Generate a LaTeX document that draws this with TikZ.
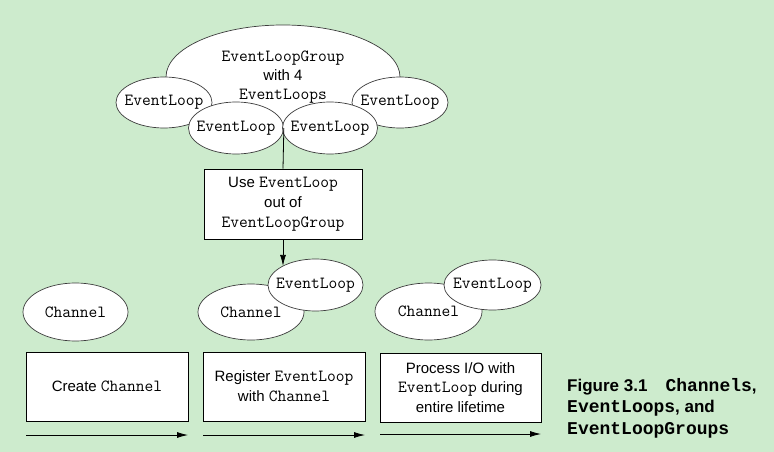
\documentclass[tikz,border=0pt]{standalone}
\usepackage{fontspec}
\setmainfont{Liberation Sans}
\setmonofont{Latin Modern Mono}
\newfontfamily\capmono{Liberation Mono}
\usetikzlibrary{shapes.geometric,arrows.meta}
\definecolor{bg}{RGB}{205,235,205}
\definecolor{edgec}{RGB}{60,60,60}
\begin{document}
\begin{tikzpicture}[x=1pt,y=-1pt,
  ell/.style={ellipse,draw=edgec,line width=0.7pt,fill=white,inner sep=0pt},
  elltxt/.style={inner sep=0pt,align=center,font=\fontsize{17}{19.3}\selectfont\ttfamily},
  stepbox/.style={draw=black,line width=0.8pt,fill=white,inner sep=0pt,align=center,
    font=\fontsize{15}{19.8}\selectfont},
  flow/.style={line width=0.8pt,-{Latex[length=11pt,width=6pt]}}]
\useasboundingbox (0,0) rectangle (774,452);
\fill[bg] (0,0) rectangle (774,452);

% top group
\node[ell,minimum width=234pt,minimum height=104pt] (grp) at (283,77) {};
\node[elltxt] (grpt) at (283,77) {EventLoopGroup\\{\rmfamily\fontsize{15}{19.3}\selectfont with 4}\\EventLoops};
\node[ell,minimum width=96pt,minimum height=51pt] (elL) at (164,102.5) {};
\node[elltxt] (elLt) at (elL) {EventLoop};
\node[ell,minimum width=96pt,minimum height=51pt] (elR) at (400,102.5) {};
\node[elltxt] (elRt) at (elR) {EventLoop};
\node[ell,minimum width=95pt,minimum height=52pt] (elBL) at (236,128) {};
\node[elltxt] (elBLt) at (elBL) {EventLoop};
\node[ell,minimum width=95pt,minimum height=52pt] (elBR) at (330,128) {};
\node[elltxt] (elBRt) at (elBR) {EventLoop};

% use box
\node[stepbox,minimum width=158pt,minimum height=70pt] (use) at (283,204)
  {Use \texttt{\fontsize{17}{19.8}\selectfont EventLoop}\\out of\\\texttt{\fontsize{17}{19.8}\selectfont EventLoopGroup}};
\draw[line width=0.8pt] (elBL.east) -- (use.north);

% column 1
\node[ell,minimum width=105pt,minimum height=58pt] (ch1) at (75.5,312) {};
\node[elltxt] (ch1t) at (ch1) {Channel};
\node[stepbox,minimum width=162pt,minimum height=69pt] (b1) at (107,386.5)
  {Create \texttt{\fontsize{17}{19.8}\selectfont Channel}};
\coordinate (a1s) at (26,435);
\coordinate (a1e) at (188,435);
\draw[flow] (a1s) -- (a1e);

% column 2
\node[ell,minimum width=106pt,minimum height=56pt] (ch2) at (251,312) {};
\node[elltxt] (ch2t) at (ch2) {Channel};
\node[ell,minimum width=95pt,minimum height=52pt] (el2) at (315.5,285) {};
\node[elltxt] (el2t) at (el2) {EventLoop};
\node[stepbox,minimum width=162pt,minimum height=69pt] (b2) at (284,386.5)
  {Register \texttt{\fontsize{17}{19.8}\selectfont EventLoop}\\with \texttt{\fontsize{17}{19.8}\selectfont Channel}};
\coordinate (a2s) at (203,435);
\coordinate (a2e) at (365,435);
\draw[flow] (a2s) -- (a2e);
\draw[flow] (use.south) -- (use.south |- el2.150);

% column 3
\node[ell,minimum width=107pt,minimum height=57pt] (ch3) at (428.5,311.5) {};
\node[elltxt] (ch3t) at (ch3) {Channel};
\node[ell,minimum width=97pt,minimum height=50pt] (el3) at (492.5,285) {};
\node[elltxt] (el3t) at (el3) {EventLoop};
\node[stepbox,minimum width=161pt,minimum height=69pt] (b3) at (460.5,387.5)
  {Process I/O with\\\texttt{\fontsize{17}{19.8}\selectfont EventLoop} during\\entire lifetime};
\coordinate (a3s) at (380,434);
\coordinate (a3e) at (541,434);
\draw[flow] (a3s) -- (a3e);

% caption
\node[anchor=west,align=left,inner sep=0pt,font=\fontsize{17}{21.5}\selectfont\bfseries] (cap) at (567,408)
  {Figure 3.1\hspace{18pt}{\capmono\fontsize{18}{21.5}\selectfont Channels},\\{\capmono\fontsize{18}{21.5}\selectfont EventLoops}, and\\{\capmono\fontsize{18}{21.5}\selectfont EventLoopGroups}};
\end{tikzpicture}
\end{document}
